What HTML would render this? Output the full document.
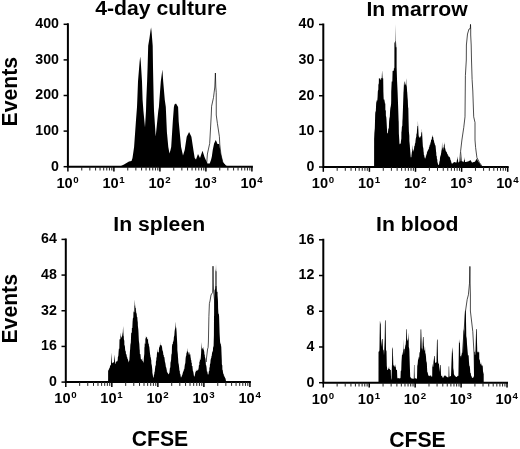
<!DOCTYPE html>
<html><head><meta charset="utf-8"><title>CFSE histograms</title>
<style>
html,body{margin:0;padding:0;background:#fff;}
body{width:520px;height:449px;overflow:hidden;}
svg{display:block;font-family:'Liberation Sans', sans-serif;fill:#000;}
</style></head><body>
<svg width="520" height="449" viewBox="0 0 520 449">
<rect width="520" height="449" fill="#fff"/>
<g><path d="M121.00,166.70 L121.00,166.00 L124.00,164.50 L129.00,161.50 L131.50,161.00 L132.50,158.00 L134.10,147.00 L135.90,121.40 L137.00,107.00 L137.30,100.00 L138.00,81.40 L139.60,62.00 L140.20,56.40 L140.80,62.00 L142.00,81.40 L142.60,100.00 L143.40,110.70 L145.00,127.30 L146.00,110.70 L146.30,100.00 L147.10,81.40 L147.60,67.00 L148.20,45.70 L149.50,38.00 L150.60,30.00 L151.10,27.50 L151.60,32.00 L152.70,45.70 L153.00,67.00 L153.30,81.40 L153.70,100.00 L154.00,110.70 L155.70,136.40 L158.30,110.70 L158.90,107.00 L159.40,100.00 L160.80,81.40 L162.40,69.60 L163.20,81.40 L164.80,100.00 L165.80,107.00 L166.90,132.00 L168.30,147.00 L169.50,153.50 L170.50,150.00 L171.20,147.00 L172.80,121.40 L173.90,107.00 L174.50,104.50 L176.00,103.50 L178.10,107.00 L178.70,121.40 L181.10,147.00 L183.00,155.50 L184.70,150.10 L186.70,136.70 L189.10,132.00 L191.40,136.70 L193.40,150.10 L194.70,158.00 L196.00,159.50 L198.00,154.00 L200.00,158.00 L202.50,150.80 L204.50,157.00 L207.40,163.50 L209.70,163.50 L211.00,160.00 L211.80,156.80 L212.75,150.00 L214.10,143.40 L215.80,140.00 L217.50,144.00 L219.20,144.00 L220.50,152.00 L222.80,162.00 L226.00,165.50 L228.00,166.70 L228.00,166.70 Z" fill="#000"/>
<path d="M205.00,165.00 L206.70,163.50 L207.40,154.00 L209.70,143.40 L211.25,115.00 L211.60,106.25 L213.50,97.50 L214.80,87.00 L215.40,73.00 L215.80,87.00 L216.25,92.50 L216.25,115.00 L217.40,123.40 L219.40,136.70 L219.80,144.80 L221.00,155.00 L223.00,163.00 L225.00,165.00" fill="none" stroke="#000" stroke-width="0.7" stroke-linejoin="miter"/>
<path d="M67.90,24.30 V166.70 H251.90" fill="none" stroke="#000" stroke-width="2" stroke-linecap="square"/>
<path d="M63.60,166.70 H67.90" stroke="#000" stroke-width="1.5"/>
<text x="59.00" y="170.60" text-anchor="end" font-size="14.2" font-weight="bold">0</text>
<path d="M63.60,131.10 H67.90" stroke="#000" stroke-width="1.5"/>
<text x="59.00" y="135.00" text-anchor="end" font-size="14.2" font-weight="bold">100</text>
<path d="M63.60,95.50 H67.90" stroke="#000" stroke-width="1.5"/>
<text x="59.00" y="99.40" text-anchor="end" font-size="14.2" font-weight="bold">200</text>
<path d="M63.60,59.90 H67.90" stroke="#000" stroke-width="1.5"/>
<text x="59.00" y="63.80" text-anchor="end" font-size="14.2" font-weight="bold">300</text>
<path d="M63.60,24.30 H67.90" stroke="#000" stroke-width="1.5"/>
<text x="59.00" y="28.20" text-anchor="end" font-size="14.2" font-weight="bold">400</text>
<path d="M67.90,166.70 V171.50" stroke="#000" stroke-width="1.5"/>
<text x="67.60" y="187.50" text-anchor="middle" font-size="14.6" font-weight="bold">10<tspan font-size="9.7" dy="-4.6" dx="0.7">0</tspan></text>
<path d="M81.75,166.70 V170.50" stroke="#222" stroke-width="1"/>
<path d="M89.85,166.70 V170.50" stroke="#222" stroke-width="1"/>
<path d="M95.59,166.70 V170.50" stroke="#222" stroke-width="1"/>
<path d="M100.05,166.70 V170.50" stroke="#222" stroke-width="1"/>
<path d="M103.69,166.70 V170.50" stroke="#222" stroke-width="1"/>
<path d="M106.77,166.70 V170.50" stroke="#222" stroke-width="1"/>
<path d="M109.44,166.70 V170.50" stroke="#222" stroke-width="1"/>
<path d="M111.80,166.70 V170.50" stroke="#222" stroke-width="1"/>
<path d="M113.90,166.70 V171.50" stroke="#000" stroke-width="1.5"/>
<text x="113.60" y="187.50" text-anchor="middle" font-size="14.6" font-weight="bold">10<tspan font-size="9.7" dy="-4.6" dx="0.7">1</tspan></text>
<path d="M127.75,166.70 V170.50" stroke="#222" stroke-width="1"/>
<path d="M135.85,166.70 V170.50" stroke="#222" stroke-width="1"/>
<path d="M141.59,166.70 V170.50" stroke="#222" stroke-width="1"/>
<path d="M146.05,166.70 V170.50" stroke="#222" stroke-width="1"/>
<path d="M149.69,166.70 V170.50" stroke="#222" stroke-width="1"/>
<path d="M152.77,166.70 V170.50" stroke="#222" stroke-width="1"/>
<path d="M155.44,166.70 V170.50" stroke="#222" stroke-width="1"/>
<path d="M157.80,166.70 V170.50" stroke="#222" stroke-width="1"/>
<path d="M159.90,166.70 V171.50" stroke="#000" stroke-width="1.5"/>
<text x="159.60" y="187.50" text-anchor="middle" font-size="14.6" font-weight="bold">10<tspan font-size="9.7" dy="-4.6" dx="0.7">2</tspan></text>
<path d="M173.75,166.70 V170.50" stroke="#222" stroke-width="1"/>
<path d="M181.85,166.70 V170.50" stroke="#222" stroke-width="1"/>
<path d="M187.59,166.70 V170.50" stroke="#222" stroke-width="1"/>
<path d="M192.05,166.70 V170.50" stroke="#222" stroke-width="1"/>
<path d="M195.69,166.70 V170.50" stroke="#222" stroke-width="1"/>
<path d="M198.77,166.70 V170.50" stroke="#222" stroke-width="1"/>
<path d="M201.44,166.70 V170.50" stroke="#222" stroke-width="1"/>
<path d="M203.80,166.70 V170.50" stroke="#222" stroke-width="1"/>
<path d="M205.90,166.70 V171.50" stroke="#000" stroke-width="1.5"/>
<text x="205.60" y="187.50" text-anchor="middle" font-size="14.6" font-weight="bold">10<tspan font-size="9.7" dy="-4.6" dx="0.7">3</tspan></text>
<path d="M219.75,166.70 V170.50" stroke="#222" stroke-width="1"/>
<path d="M227.85,166.70 V170.50" stroke="#222" stroke-width="1"/>
<path d="M233.59,166.70 V170.50" stroke="#222" stroke-width="1"/>
<path d="M238.05,166.70 V170.50" stroke="#222" stroke-width="1"/>
<path d="M241.69,166.70 V170.50" stroke="#222" stroke-width="1"/>
<path d="M244.77,166.70 V170.50" stroke="#222" stroke-width="1"/>
<path d="M247.44,166.70 V170.50" stroke="#222" stroke-width="1"/>
<path d="M249.80,166.70 V170.50" stroke="#222" stroke-width="1"/>
<path d="M251.90,166.70 V171.50" stroke="#000" stroke-width="1.5"/>
<text x="251.60" y="187.50" text-anchor="middle" font-size="14.6" font-weight="bold">10<tspan font-size="9.7" dy="-4.6" dx="0.7">4</tspan></text>
<text transform="translate(161.10,15.00) scale(1.07,1)" text-anchor="middle" font-size="19.8" font-weight="bold">4-day culture</text></g>
<g><path d="M374.10,167.00 L374.10,166.80 L374.12,139.00 L374.38,133.07 L374.83,127.91 L375.10,117.77 L375.20,113.90 L375.38,111.96 L375.83,110.94 L376.10,104.84 L376.20,102.80 L376.60,101.13 L376.80,100.00 L376.88,100.39 L377.33,100.39 L377.60,96.67 L377.80,92.00 L377.88,91.06 L378.33,89.56 L378.38,84.79 L378.83,83.35 L378.90,78.20 L379.10,78.50 L379.38,78.16 L379.83,78.15 L379.88,78.89 L380.33,78.89 L380.38,80.02 L380.83,80.02 L380.88,78.06 L381.33,78.06 L381.50,78.00 L381.60,80.34 L382.10,70.20 L382.60,78.20 L383.10,78.51 L383.20,78.20 L383.40,92.00 L383.60,97.31 L383.70,99.60 L383.88,99.61 L384.33,99.61 L384.60,103.89 L384.80,99.60 L385.10,103.92 L385.30,103.00 L385.38,110.18 L385.83,110.44 L385.88,115.61 L386.33,117.52 L386.50,120.00 L386.60,121.89 L387.10,131.56 L387.20,133.20 L387.38,133.15 L387.83,133.15 L388.00,132.00 L388.10,131.07 L388.38,128.58 L388.83,128.58 L389.10,121.40 L389.38,118.46 L389.83,116.49 L390.10,110.70 L390.38,108.03 L390.83,105.93 L391.10,103.80 L391.20,100.00 L391.22,92.00 L391.60,83.69 L391.70,81.40 L391.88,81.62 L392.33,81.62 L392.60,70.70 L392.88,70.95 L393.33,70.95 L393.38,70.56 L393.83,70.56 L393.88,68.36 L394.33,68.36 L394.40,67.00 L394.42,41.40 L394.60,43.21 L395.10,41.37 L395.30,41.00 L395.50,24.10 L395.60,32.56 L395.70,41.00 L395.88,47.22 L396.33,47.22 L396.60,41.40 L396.62,67.00 L397.10,81.40 L397.60,92.00 L397.90,100.00 L398.10,105.57 L398.60,120.61 L398.70,121.40 L398.88,133.72 L399.33,140.51 L399.40,142.80 L399.60,144.39 L400.10,143.30 L400.60,144.17 L400.80,142.80 L400.88,141.45 L401.33,138.48 L401.40,132.00 L401.60,131.26 L401.88,126.96 L402.33,125.50 L402.40,121.40 L402.60,118.32 L403.00,107.00 L403.10,104.06 L403.50,92.00 L403.60,91.22 L404.00,82.50 L404.10,86.01 L404.38,81.77 L404.83,81.55 L404.88,85.08 L405.33,85.08 L405.38,83.79 L405.83,83.79 L406.10,79.35 L406.20,78.20 L406.38,84.43 L406.83,86.83 L407.10,91.62 L407.20,92.00 L407.60,98.00 L407.80,100.00 L408.10,108.18 L408.30,107.00 L408.60,121.40 L408.88,131.59 L409.33,135.68 L409.38,141.09 L409.83,145.52 L409.90,147.00 L410.10,149.37 L410.60,155.63 L410.80,157.60 L410.88,157.32 L411.33,157.15 L411.50,155.00 L411.60,154.40 L411.88,152.00 L412.33,150.46 L412.60,146.60 L412.75,145.00 L412.88,148.94 L413.33,150.37 L413.50,152.00 L413.60,151.34 L414.10,148.17 L414.20,147.00 L414.38,146.12 L414.83,145.44 L414.88,143.63 L415.33,143.11 L415.60,140.00 L415.88,138.04 L416.33,136.49 L416.38,134.46 L416.83,132.92 L417.00,130.00 L417.10,129.25 L417.38,126.11 L417.83,126.11 L417.90,120.60 L418.10,125.04 L418.60,135.00 L418.88,136.78 L419.33,136.78 L419.38,137.32 L419.83,137.63 L420.00,138.00 L420.10,137.69 L420.38,136.75 L420.83,136.01 L421.10,135.72 L421.20,134.00 L421.38,132.52 L421.83,132.03 L421.90,128.10 L422.10,132.38 L422.50,140.00 L422.60,141.78 L422.88,146.61 L423.33,148.25 L423.60,151.83 L423.75,152.50 L423.88,155.00 L424.33,155.38 L424.38,156.86 L424.83,157.88 L425.00,158.75 L425.10,158.96 L425.38,157.52 L425.83,157.38 L425.88,155.87 L426.33,155.40 L426.38,154.23 L426.83,154.16 L426.90,152.50 L427.10,152.23 L427.38,151.31 L427.83,150.90 L427.88,150.06 L428.33,149.57 L428.38,149.17 L428.83,149.17 L428.88,147.56 L429.33,147.03 L429.40,146.25 L429.60,145.48 L429.88,144.49 L430.33,144.49 L430.38,142.54 L430.83,142.54 L431.00,140.00 L431.10,140.12 L431.38,139.57 L431.83,139.57 L431.88,137.50 L432.33,136.86 L432.60,135.56 L432.75,135.00 L432.88,136.84 L433.33,137.76 L433.38,139.39 L433.83,140.16 L434.00,141.00 L434.10,141.38 L434.38,142.98 L434.83,143.71 L434.88,144.77 L435.33,145.35 L435.60,146.25 L436.10,151.88 L436.25,152.50 L436.38,155.62 L436.83,156.39 L436.88,158.56 L437.33,159.76 L437.38,161.70 L437.83,163.14 L438.10,165.00 L438.38,164.82 L438.83,164.68 L439.00,164.40 L439.10,163.90 L439.38,161.81 L439.83,160.38 L440.00,157.50 L440.10,157.44 L440.38,156.00 L440.83,155.10 L441.10,153.14 L441.25,152.50 L441.38,150.94 L441.83,148.98 L442.10,141.90 L442.38,147.23 L442.83,148.43 L443.00,150.00 L443.10,150.30 L443.38,147.83 L443.83,147.00 L443.88,144.94 L444.33,143.91 L444.40,141.90 L444.60,143.88 L444.88,147.98 L445.33,148.71 L445.50,150.00 L445.60,150.28 L445.88,151.36 L446.33,151.47 L446.38,152.04 L446.83,152.37 L446.90,152.50 L447.10,153.47 L447.38,154.03 L447.83,154.52 L447.88,155.48 L448.33,155.62 L448.50,156.00 L448.60,156.73 L448.88,156.60 L449.33,156.83 L449.38,157.32 L449.83,157.33 L450.00,157.50 L450.10,158.07 L450.38,159.82 L450.83,160.21 L450.88,161.25 L451.33,161.86 L451.38,162.78 L451.83,163.50 L451.90,163.75 L452.10,163.62 L452.38,163.39 L452.83,163.39 L452.88,162.97 L453.33,162.97 L453.38,162.52 L453.83,162.34 L454.00,162.00 L454.10,162.02 L454.38,162.12 L454.83,162.17 L454.88,162.22 L455.33,162.27 L455.38,162.38 L455.83,162.38 L455.88,162.43 L456.33,162.47 L456.50,162.50 L456.60,162.12 L456.88,160.16 L457.33,158.98 L457.50,156.25 L457.60,157.04 L458.10,161.05 L458.30,162.50 L458.38,162.44 L458.83,162.31 L458.88,162.07 L459.33,161.98 L459.38,161.69 L459.83,161.54 L460.10,161.16 L460.30,161.00 L460.38,159.89 L460.83,156.57 L461.00,150.60 L461.10,152.22 L461.60,159.76 L461.70,161.00 L461.88,161.31 L462.33,161.31 L462.38,161.45 L462.83,161.56 L462.88,161.87 L463.33,161.87 L463.60,162.20 L463.70,162.00 L463.88,160.75 L464.33,159.44 L464.40,157.00 L464.60,158.77 L465.10,162.00 L465.38,161.95 L465.83,161.91 L465.88,161.90 L466.33,161.90 L466.38,161.78 L466.83,161.74 L466.88,161.85 L467.33,161.85 L467.38,161.61 L467.83,161.58 L468.00,161.50 L468.10,161.62 L468.38,161.28 L468.83,161.18 L468.88,161.06 L469.33,161.06 L469.38,160.71 L469.83,160.62 L469.88,160.42 L470.33,160.29 L470.60,160.00 L470.88,160.95 L471.33,161.29 L471.38,161.82 L471.83,162.19 L472.00,162.50 L472.10,162.70 L472.38,162.38 L472.83,162.33 L472.88,162.21 L473.33,162.21 L473.38,162.06 L473.83,162.06 L473.88,162.10 L474.33,162.10 L474.38,161.71 L474.83,161.64 L475.00,161.50 L475.10,161.45 L475.38,160.81 L475.83,160.50 L475.88,159.89 L476.33,159.73 L476.38,159.06 L476.83,159.06 L476.90,158.00 L477.10,158.60 L477.38,160.13 L477.83,160.52 L478.00,161.00 L478.10,161.23 L478.38,161.86 L478.83,162.03 L478.88,162.38 L479.33,162.66 L479.38,163.17 L479.83,163.28 L480.00,163.50 L480.10,163.88 L480.38,164.56 L480.83,164.93 L480.88,165.42 L481.33,165.80 L481.38,166.32 L481.83,166.67 L481.90,166.80 L481.90,167.00 Z" fill="#000"/>
<path d="M458.50,166.50 L459.40,164.00 L460.60,151.25 L461.90,140.00 L463.75,127.50 L465.00,116.80 L465.40,75.50 L466.30,60.00 L466.40,45.00 L467.50,34.00 L469.00,29.00 L470.30,28.50 L470.50,24.40 L470.70,29.00 L470.70,35.00 L471.20,45.00 L471.50,60.00 L472.10,79.40 L472.80,91.00 L473.70,116.80 L475.00,122.50 L475.00,140.00 L475.60,147.50 L476.90,157.50 L479.40,162.50 L481.90,166.00" fill="none" stroke="#000" stroke-width="0.7" stroke-linejoin="miter"/>
<path d="M323.30,24.50 V167.00 H507.70" fill="none" stroke="#000" stroke-width="2" stroke-linecap="square"/>
<path d="M319.00,167.00 H323.30" stroke="#000" stroke-width="1.5"/>
<text x="314.40" y="170.90" text-anchor="end" font-size="14.2" font-weight="bold">0</text>
<path d="M319.00,131.38 H323.30" stroke="#000" stroke-width="1.5"/>
<text x="314.40" y="135.28" text-anchor="end" font-size="14.2" font-weight="bold">10</text>
<path d="M319.00,95.75 H323.30" stroke="#000" stroke-width="1.5"/>
<text x="314.40" y="99.65" text-anchor="end" font-size="14.2" font-weight="bold">20</text>
<path d="M319.00,60.12 H323.30" stroke="#000" stroke-width="1.5"/>
<text x="314.40" y="64.03" text-anchor="end" font-size="14.2" font-weight="bold">30</text>
<path d="M319.00,24.50 H323.30" stroke="#000" stroke-width="1.5"/>
<text x="314.40" y="28.40" text-anchor="end" font-size="14.2" font-weight="bold">40</text>
<path d="M323.30,167.00 V171.80" stroke="#000" stroke-width="1.5"/>
<text x="323.00" y="187.80" text-anchor="middle" font-size="14.6" font-weight="bold">10<tspan font-size="9.7" dy="-4.6" dx="0.7">0</tspan></text>
<path d="M337.18,167.00 V170.80" stroke="#222" stroke-width="1"/>
<path d="M345.30,167.00 V170.80" stroke="#222" stroke-width="1"/>
<path d="M351.05,167.00 V170.80" stroke="#222" stroke-width="1"/>
<path d="M355.52,167.00 V170.80" stroke="#222" stroke-width="1"/>
<path d="M359.17,167.00 V170.80" stroke="#222" stroke-width="1"/>
<path d="M362.26,167.00 V170.80" stroke="#222" stroke-width="1"/>
<path d="M364.93,167.00 V170.80" stroke="#222" stroke-width="1"/>
<path d="M367.29,167.00 V170.80" stroke="#222" stroke-width="1"/>
<path d="M369.40,167.00 V171.80" stroke="#000" stroke-width="1.5"/>
<text x="369.10" y="187.80" text-anchor="middle" font-size="14.6" font-weight="bold">10<tspan font-size="9.7" dy="-4.6" dx="0.7">1</tspan></text>
<path d="M383.28,167.00 V170.80" stroke="#222" stroke-width="1"/>
<path d="M391.40,167.00 V170.80" stroke="#222" stroke-width="1"/>
<path d="M397.15,167.00 V170.80" stroke="#222" stroke-width="1"/>
<path d="M401.62,167.00 V170.80" stroke="#222" stroke-width="1"/>
<path d="M405.27,167.00 V170.80" stroke="#222" stroke-width="1"/>
<path d="M408.36,167.00 V170.80" stroke="#222" stroke-width="1"/>
<path d="M411.03,167.00 V170.80" stroke="#222" stroke-width="1"/>
<path d="M413.39,167.00 V170.80" stroke="#222" stroke-width="1"/>
<path d="M415.50,167.00 V171.80" stroke="#000" stroke-width="1.5"/>
<text x="415.20" y="187.80" text-anchor="middle" font-size="14.6" font-weight="bold">10<tspan font-size="9.7" dy="-4.6" dx="0.7">2</tspan></text>
<path d="M429.38,167.00 V170.80" stroke="#222" stroke-width="1"/>
<path d="M437.50,167.00 V170.80" stroke="#222" stroke-width="1"/>
<path d="M443.25,167.00 V170.80" stroke="#222" stroke-width="1"/>
<path d="M447.72,167.00 V170.80" stroke="#222" stroke-width="1"/>
<path d="M451.37,167.00 V170.80" stroke="#222" stroke-width="1"/>
<path d="M454.46,167.00 V170.80" stroke="#222" stroke-width="1"/>
<path d="M457.13,167.00 V170.80" stroke="#222" stroke-width="1"/>
<path d="M459.49,167.00 V170.80" stroke="#222" stroke-width="1"/>
<path d="M461.60,167.00 V171.80" stroke="#000" stroke-width="1.5"/>
<text x="461.30" y="187.80" text-anchor="middle" font-size="14.6" font-weight="bold">10<tspan font-size="9.7" dy="-4.6" dx="0.7">3</tspan></text>
<path d="M475.48,167.00 V170.80" stroke="#222" stroke-width="1"/>
<path d="M483.60,167.00 V170.80" stroke="#222" stroke-width="1"/>
<path d="M489.35,167.00 V170.80" stroke="#222" stroke-width="1"/>
<path d="M493.82,167.00 V170.80" stroke="#222" stroke-width="1"/>
<path d="M497.47,167.00 V170.80" stroke="#222" stroke-width="1"/>
<path d="M500.56,167.00 V170.80" stroke="#222" stroke-width="1"/>
<path d="M503.23,167.00 V170.80" stroke="#222" stroke-width="1"/>
<path d="M505.59,167.00 V170.80" stroke="#222" stroke-width="1"/>
<path d="M507.70,167.00 V171.80" stroke="#000" stroke-width="1.5"/>
<text x="507.40" y="187.80" text-anchor="middle" font-size="14.6" font-weight="bold">10<tspan font-size="9.7" dy="-4.6" dx="0.7">4</tspan></text>
<text transform="translate(417.00,15.90) scale(1.07,1)" text-anchor="middle" font-size="19.8" font-weight="bold">In marrow</text></g>
<g><path d="M108.10,382.10 L108.10,382.10 L108.12,371.00 L108.38,370.32 L108.82,369.85 L108.88,368.99 L109.32,368.42 L109.38,367.68 L109.82,367.68 L110.00,366.00 L110.10,365.81 L110.38,365.28 L110.82,365.28 L111.00,364.00 L111.10,361.96 L111.50,352.50 L111.60,354.61 L112.00,363.00 L112.10,363.42 L112.38,362.81 L112.82,362.70 L112.88,362.80 L113.32,362.80 L113.38,362.31 L113.82,362.21 L114.00,362.00 L114.10,360.75 L114.60,354.40 L115.10,361.92 L115.20,363.00 L115.38,363.77 L115.82,363.77 L115.88,362.12 L116.32,361.86 L116.38,361.47 L116.82,361.27 L116.88,361.34 L117.32,361.34 L117.50,360.00 L117.60,361.17 L117.88,357.00 L118.32,356.06 L118.60,351.67 L118.75,350.00 L118.88,348.70 L119.32,348.70 L119.50,340.00 L119.60,339.33 L119.88,339.18 L120.32,339.18 L120.60,332.50 L120.88,335.93 L121.32,336.93 L121.50,338.00 L121.60,337.71 L122.10,335.81 L122.30,335.00 L122.38,334.16 L122.82,332.09 L123.10,326.00 L123.60,336.27 L123.80,336.00 L123.88,339.01 L124.32,341.03 L124.38,344.91 L124.82,345.82 L125.00,347.50 L125.10,349.34 L125.38,350.92 L125.82,351.62 L125.88,353.84 L126.32,354.12 L126.50,355.00 L126.60,355.32 L126.88,356.88 L127.32,357.58 L127.38,358.53 L127.82,359.14 L128.10,360.00 L128.60,362.38 L128.75,361.90 L128.88,361.25 L129.32,360.47 L129.50,358.00 L129.60,356.64 L130.00,350.00 L130.10,349.70 L130.38,344.75 L130.82,342.40 L131.10,335.01 L131.25,332.50 L131.38,332.76 L131.82,332.76 L131.88,328.08 L132.32,328.08 L132.60,321.60 L132.75,320.00 L132.88,318.33 L133.32,317.45 L133.50,310.00 L133.60,311.37 L133.88,312.21 L134.32,312.21 L134.40,305.00 L134.60,305.90 L134.75,299.40 L135.10,305.00 L135.38,307.77 L135.82,308.15 L136.10,316.06 L136.25,310.00 L136.38,312.43 L136.82,313.83 L136.88,316.78 L137.32,317.17 L137.60,322.47 L137.75,320.00 L137.88,325.96 L138.32,329.58 L138.50,332.50 L138.60,335.01 L138.88,340.91 L139.32,344.05 L139.60,349.37 L139.75,350.00 L139.88,354.00 L140.32,354.00 L140.50,355.00 L140.60,356.20 L140.88,358.98 L141.32,358.98 L141.38,359.15 L141.82,359.73 L141.90,360.00 L142.10,361.34 L142.50,361.00 L142.60,360.36 L142.75,357.50 L143.10,363.00 L143.60,361.38 L143.75,360.00 L143.88,357.60 L144.32,353.85 L144.40,347.50 L144.60,346.91 L144.75,342.00 L144.88,343.64 L145.32,343.64 L145.38,338.50 L145.82,338.21 L146.00,335.00 L146.10,337.28 L146.38,336.82 L146.82,337.47 L147.00,338.00 L147.10,339.94 L147.38,338.91 L147.82,338.91 L148.00,336.50 L148.10,341.53 L148.38,343.87 L148.82,343.87 L148.88,345.43 L149.32,346.91 L149.40,347.50 L149.60,349.64 L150.10,354.57 L150.30,355.00 L150.38,356.58 L150.82,357.76 L151.10,359.68 L151.25,360.00 L151.38,363.38 L151.82,365.48 L152.10,368.11 L152.30,370.00 L152.38,372.82 L152.82,374.92 L153.10,377.50 L153.50,377.50 L153.60,377.21 L153.88,375.31 L154.32,374.01 L154.38,372.40 L154.82,371.15 L155.00,368.75 L155.10,368.17 L155.38,365.79 L155.82,365.33 L155.88,361.84 L156.32,360.08 L156.38,357.89 L156.82,356.62 L156.90,353.75 L157.10,352.95 L157.50,348.75 L157.60,351.85 L158.00,352.00 L158.10,353.57 L158.38,351.93 L158.82,351.93 L159.00,348.00 L159.10,347.90 L159.38,346.67 L159.82,346.47 L159.88,344.89 L160.32,344.56 L160.38,345.30 L160.82,345.30 L160.90,341.25 L161.10,345.80 L161.38,344.99 L161.82,346.09 L162.00,347.00 L162.10,347.60 L162.38,350.17 L162.82,351.12 L163.00,352.00 L163.10,352.54 L163.38,354.94 L163.82,355.18 L163.88,357.10 L164.32,357.11 L164.40,357.40 L164.60,358.76 L164.88,361.60 L165.32,362.95 L165.50,364.00 L165.60,364.76 L165.88,366.97 L166.32,367.81 L166.60,369.48 L166.80,370.00 L166.88,371.84 L167.32,371.84 L167.38,372.74 L167.82,372.94 L168.10,373.94 L168.30,374.30 L168.38,374.16 L168.82,374.03 L168.88,373.20 L169.32,373.18 L169.50,372.00 L169.60,371.00 L169.88,368.25 L170.32,367.25 L170.50,362.00 L170.60,362.56 L171.10,359.82 L171.20,357.40 L171.38,354.80 L171.82,353.32 L172.00,345.50 L172.10,345.68 L172.38,344.12 L172.82,343.89 L172.88,342.29 L173.32,341.51 L173.50,340.00 L173.60,340.89 L173.88,337.12 L174.32,335.40 L174.60,331.56 L174.80,330.00 L174.88,329.39 L175.32,327.77 L175.60,323.59 L175.80,321.80 L175.88,326.25 L176.32,328.49 L176.60,332.00 L177.10,341.30 L177.30,345.00 L177.38,350.31 L177.82,354.30 L178.00,357.40 L178.10,358.34 L178.38,362.72 L178.82,364.69 L179.10,367.31 L179.20,368.00 L179.38,370.15 L179.82,371.37 L179.88,373.53 L180.32,374.06 L180.50,375.00 L180.60,375.78 L181.00,377.70 L181.10,377.46 L181.38,376.77 L181.82,376.26 L181.88,375.54 L182.32,375.07 L182.50,374.00 L182.60,373.74 L182.88,372.60 L183.32,371.78 L183.38,370.74 L183.82,370.74 L183.88,369.37 L184.32,369.37 L184.60,366.50 L184.70,365.80 L184.88,364.40 L185.32,363.04 L185.60,358.62 L185.80,357.00 L185.88,356.55 L186.32,355.23 L186.38,353.55 L186.82,352.54 L187.10,349.42 L187.30,348.00 L187.38,351.42 L187.82,351.42 L187.88,351.41 L188.32,352.27 L188.50,353.00 L188.60,352.88 L188.88,354.85 L189.32,354.85 L189.60,352.46 L189.80,351.40 L189.88,353.44 L190.32,354.86 L190.60,357.40 L190.80,358.00 L190.88,359.46 L191.32,360.56 L191.38,362.44 L191.82,363.00 L191.88,365.97 L192.32,365.97 L192.40,365.80 L192.60,368.18 L192.88,370.93 L193.32,371.85 L193.50,373.00 L193.60,373.49 L193.88,375.68 L194.32,376.57 L194.40,376.90 L194.60,375.94 L195.10,373.98 L195.20,373.00 L195.38,372.26 L195.82,371.60 L196.10,369.20 L196.38,370.89 L196.82,370.89 L197.00,371.00 L197.10,370.92 L197.38,370.25 L197.82,369.86 L197.88,369.64 L198.32,369.64 L198.50,368.00 L198.60,368.67 L198.88,365.35 L199.32,365.04 L199.38,361.82 L199.82,361.59 L200.00,357.40 L200.10,359.39 L200.60,360.00 L201.10,353.27 L201.20,350.00 L201.50,341.90 L201.60,343.86 L201.90,349.00 L202.10,349.49 L202.38,348.13 L202.82,348.13 L203.10,346.80 L203.38,348.97 L203.82,349.94 L204.10,351.14 L204.30,352.00 L204.38,354.06 L204.82,355.23 L204.88,357.09 L205.32,358.31 L205.60,360.00 L205.88,364.83 L206.32,365.80 L206.60,368.00 L206.88,371.47 L207.32,371.54 L207.50,372.40 L207.60,373.21 L207.80,374.30 L207.88,374.38 L208.32,374.38 L208.60,373.50 L208.70,372.40 L208.88,371.26 L209.32,370.87 L209.38,367.99 L209.82,366.73 L209.88,364.73 L210.32,363.35 L210.60,360.00 L210.88,358.73 L211.32,357.81 L211.38,356.42 L211.82,355.48 L211.90,354.00 L212.10,353.03 L212.38,351.43 L212.82,351.40 L213.10,347.50 L213.60,345.97 L213.70,342.00 L213.90,335.00 L214.00,316.40 L214.10,315.76 L214.30,300.00 L214.60,290.00 L215.10,289.24 L215.30,286.00 L215.45,285.90 L215.47,264.10 L215.60,268.93 L215.88,271.34 L216.32,271.34 L216.50,264.10 L216.52,285.90 L216.60,286.01 L216.70,286.00 L216.88,291.94 L217.32,291.94 L217.50,290.00 L217.60,299.62 L217.70,295.00 L218.00,302.00 L218.10,307.94 L218.38,313.76 L218.82,313.76 L219.10,316.40 L219.60,333.00 L219.70,335.00 L220.10,342.00 L220.38,343.48 L220.82,343.98 L221.10,346.96 L221.20,345.00 L221.60,355.29 L221.80,360.00 L221.88,364.27 L222.32,365.42 L222.38,369.52 L222.82,370.59 L223.00,372.40 L223.10,372.79 L223.38,374.02 L223.82,374.45 L223.88,375.73 L224.32,375.73 L224.38,376.66 L224.82,376.93 L224.88,377.62 L225.32,378.17 L225.50,378.60 L225.60,379.10 L226.10,381.60 L226.20,382.10 L226.20,382.10 Z" fill="#000"/>
<path d="M206.30,362.00 L206.50,358.00 L207.60,349.00 L208.10,347.50 L208.40,342.00 L208.90,316.40 L209.40,303.50 L210.00,301.00 L211.00,295.00 L212.60,292.40 L212.90,283.00 L213.00,266.20 L213.20,283.00 L213.50,290.00 L214.50,300.00 L215.30,316.00" fill="none" stroke="#000" stroke-width="0.7" stroke-linejoin="miter"/>
<path d="M65.80,239.40 V382.10 H249.92" fill="none" stroke="#000" stroke-width="2" stroke-linecap="square"/>
<path d="M61.50,382.10 H65.80" stroke="#000" stroke-width="1.5"/>
<text x="56.90" y="386.00" text-anchor="end" font-size="14.2" font-weight="bold">0</text>
<path d="M61.50,346.43 H65.80" stroke="#000" stroke-width="1.5"/>
<text x="56.90" y="350.32" text-anchor="end" font-size="14.2" font-weight="bold">16</text>
<path d="M61.50,310.75 H65.80" stroke="#000" stroke-width="1.5"/>
<text x="56.90" y="314.65" text-anchor="end" font-size="14.2" font-weight="bold">32</text>
<path d="M61.50,275.08 H65.80" stroke="#000" stroke-width="1.5"/>
<text x="56.90" y="278.98" text-anchor="end" font-size="14.2" font-weight="bold">48</text>
<path d="M61.50,239.40 H65.80" stroke="#000" stroke-width="1.5"/>
<text x="56.90" y="243.30" text-anchor="end" font-size="14.2" font-weight="bold">64</text>
<path d="M65.80,382.10 V386.90" stroke="#000" stroke-width="1.5"/>
<text x="65.50" y="402.90" text-anchor="middle" font-size="14.6" font-weight="bold">10<tspan font-size="9.7" dy="-4.6" dx="0.7">0</tspan></text>
<path d="M79.66,382.10 V385.90" stroke="#222" stroke-width="1"/>
<path d="M87.76,382.10 V385.90" stroke="#222" stroke-width="1"/>
<path d="M93.51,382.10 V385.90" stroke="#222" stroke-width="1"/>
<path d="M97.97,382.10 V385.90" stroke="#222" stroke-width="1"/>
<path d="M101.62,382.10 V385.90" stroke="#222" stroke-width="1"/>
<path d="M104.70,382.10 V385.90" stroke="#222" stroke-width="1"/>
<path d="M107.37,382.10 V385.90" stroke="#222" stroke-width="1"/>
<path d="M109.72,382.10 V385.90" stroke="#222" stroke-width="1"/>
<path d="M111.83,382.10 V386.90" stroke="#000" stroke-width="1.5"/>
<text x="111.53" y="402.90" text-anchor="middle" font-size="14.6" font-weight="bold">10<tspan font-size="9.7" dy="-4.6" dx="0.7">1</tspan></text>
<path d="M125.69,382.10 V385.90" stroke="#222" stroke-width="1"/>
<path d="M133.79,382.10 V385.90" stroke="#222" stroke-width="1"/>
<path d="M139.54,382.10 V385.90" stroke="#222" stroke-width="1"/>
<path d="M144.00,382.10 V385.90" stroke="#222" stroke-width="1"/>
<path d="M147.65,382.10 V385.90" stroke="#222" stroke-width="1"/>
<path d="M150.73,382.10 V385.90" stroke="#222" stroke-width="1"/>
<path d="M153.40,382.10 V385.90" stroke="#222" stroke-width="1"/>
<path d="M155.75,382.10 V385.90" stroke="#222" stroke-width="1"/>
<path d="M157.86,382.10 V386.90" stroke="#000" stroke-width="1.5"/>
<text x="157.56" y="402.90" text-anchor="middle" font-size="14.6" font-weight="bold">10<tspan font-size="9.7" dy="-4.6" dx="0.7">2</tspan></text>
<path d="M171.72,382.10 V385.90" stroke="#222" stroke-width="1"/>
<path d="M179.82,382.10 V385.90" stroke="#222" stroke-width="1"/>
<path d="M185.57,382.10 V385.90" stroke="#222" stroke-width="1"/>
<path d="M190.03,382.10 V385.90" stroke="#222" stroke-width="1"/>
<path d="M193.68,382.10 V385.90" stroke="#222" stroke-width="1"/>
<path d="M196.76,382.10 V385.90" stroke="#222" stroke-width="1"/>
<path d="M199.43,382.10 V385.90" stroke="#222" stroke-width="1"/>
<path d="M201.78,382.10 V385.90" stroke="#222" stroke-width="1"/>
<path d="M203.89,382.10 V386.90" stroke="#000" stroke-width="1.5"/>
<text x="203.59" y="402.90" text-anchor="middle" font-size="14.6" font-weight="bold">10<tspan font-size="9.7" dy="-4.6" dx="0.7">3</tspan></text>
<path d="M217.75,382.10 V385.90" stroke="#222" stroke-width="1"/>
<path d="M225.85,382.10 V385.90" stroke="#222" stroke-width="1"/>
<path d="M231.60,382.10 V385.90" stroke="#222" stroke-width="1"/>
<path d="M236.06,382.10 V385.90" stroke="#222" stroke-width="1"/>
<path d="M239.71,382.10 V385.90" stroke="#222" stroke-width="1"/>
<path d="M242.79,382.10 V385.90" stroke="#222" stroke-width="1"/>
<path d="M245.46,382.10 V385.90" stroke="#222" stroke-width="1"/>
<path d="M247.81,382.10 V385.90" stroke="#222" stroke-width="1"/>
<path d="M249.92,382.10 V386.90" stroke="#000" stroke-width="1.5"/>
<text x="249.62" y="402.90" text-anchor="middle" font-size="14.6" font-weight="bold">10<tspan font-size="9.7" dy="-4.6" dx="0.7">4</tspan></text>
<text transform="translate(159.20,231.00) scale(1.07,1)" text-anchor="middle" font-size="19.8" font-weight="bold">In spleen</text></g>
<g><path d="M378.50,382.70 L378.50,382.70 L378.52,352.00 L378.77,351.42 L379.23,351.25 L379.40,350.00 L379.50,346.67 L379.60,339.00 L379.90,320.00 L380.00,321.65 L380.50,324.39 L380.70,320.00 L381.00,339.00 L381.50,346.91 L381.60,345.00 L382.00,339.00 L382.50,339.04 L382.60,339.00 L383.00,349.00 L383.27,350.04 L383.73,350.51 L384.00,355.34 L384.20,351.50 L384.50,345.09 L384.70,340.00 L385.00,320.00 L385.50,320.66 L385.60,320.00 L385.90,340.00 L386.00,349.68 L386.50,351.50 L386.80,366.00 L387.00,367.28 L387.27,370.06 L387.73,370.06 L388.00,369.60 L388.27,368.61 L388.73,368.45 L389.00,366.00 L389.27,368.97 L389.73,368.97 L390.00,369.60 L390.27,369.91 L390.73,369.96 L390.80,370.00 L391.00,377.13 L391.10,380.00 L391.50,378.00 L391.90,366.00 L392.00,364.35 L392.30,347.00 L392.50,348.88 L392.90,347.00 L393.00,354.57 L393.30,364.00 L393.50,365.92 L393.77,365.18 L394.23,365.54 L394.50,366.00 L394.77,366.95 L395.23,366.95 L395.50,364.00 L396.00,368.99 L396.20,369.60 L396.27,369.98 L396.73,369.98 L397.00,370.00 L397.30,377.70 L397.50,377.70 L397.77,378.42 L398.23,378.42 L398.27,377.91 L398.73,377.91 L398.77,378.20 L399.23,378.20 L399.27,378.44 L399.73,378.44 L399.77,378.19 L400.23,378.19 L400.50,377.70 L400.70,372.00 L400.77,371.06 L401.23,370.60 L401.50,362.00 L402.00,354.13 L402.10,351.50 L402.27,354.82 L402.73,354.82 L403.00,351.39 L403.10,350.00 L403.40,338.90 L403.50,348.57 L403.80,350.00 L404.00,354.57 L404.27,349.21 L404.73,348.90 L405.00,348.00 L405.27,345.80 L405.73,344.14 L406.00,340.00 L406.40,329.00 L406.50,329.49 L406.90,329.00 L407.00,340.87 L407.30,340.00 L407.50,340.92 L407.90,338.00 L408.00,340.12 L408.30,332.60 L408.50,337.11 L408.70,340.00 L408.77,346.79 L409.23,348.63 L409.40,351.50 L409.50,355.67 L409.80,365.00 L410.00,370.79 L410.20,376.00 L410.27,377.14 L410.73,377.31 L411.00,378.00 L411.27,378.31 L411.73,378.31 L411.77,378.74 L412.23,378.74 L412.27,378.42 L412.73,378.42 L412.77,378.78 L413.23,378.78 L413.27,378.66 L413.73,378.66 L413.80,378.00 L414.00,365.00 L414.40,365.00 L414.50,371.85 L414.70,378.00 L414.77,378.41 L415.23,378.41 L415.27,378.02 L415.73,378.02 L415.77,378.67 L416.23,378.67 L416.27,378.84 L416.73,378.84 L417.00,378.00 L417.30,364.00 L417.50,365.98 L418.00,360.00 L418.50,358.73 L418.70,356.00 L418.77,357.41 L419.23,357.41 L419.50,352.70 L419.60,352.00 L420.00,352.61 L420.20,346.00 L420.50,336.37 L420.60,329.00 L421.00,329.84 L421.20,329.00 L421.50,338.78 L421.60,342.00 L421.77,348.39 L422.23,348.39 L422.50,351.12 L422.60,344.00 L423.00,337.00 L423.50,337.00 L423.90,346.00 L424.00,346.06 L424.27,350.52 L424.73,350.52 L425.00,346.00 L425.27,352.63 L425.73,354.16 L425.80,355.00 L426.00,356.75 L426.27,361.09 L426.73,362.57 L426.90,364.00 L427.00,367.03 L427.27,371.97 L427.73,372.43 L427.80,373.20 L428.00,373.67 L428.27,375.40 L428.73,375.40 L429.00,376.00 L429.27,375.86 L429.73,375.75 L429.77,376.21 L430.23,376.21 L430.27,375.41 L430.73,375.41 L431.00,375.00 L431.27,376.50 L431.73,376.50 L432.00,377.10 L432.20,376.00 L432.30,364.00 L432.50,364.60 L432.77,366.64 L433.23,366.64 L433.50,362.00 L434.00,358.17 L434.20,356.00 L434.50,356.03 L434.70,356.00 L435.00,361.75 L435.20,363.00 L435.27,362.94 L435.73,362.77 L435.77,362.56 L436.23,362.54 L436.50,362.00 L437.00,338.90 L437.50,340.30 L437.60,338.90 L438.00,360.00 L438.27,363.48 L438.73,363.48 L439.00,364.00 L439.50,372.00 L440.00,366.24 L440.10,365.00 L440.50,365.01 L440.60,365.00 L441.00,374.00 L441.27,375.90 L441.73,375.90 L441.77,375.64 L442.23,375.84 L442.27,377.39 L442.73,377.39 L443.00,377.00 L443.27,377.46 L443.73,377.46 L443.77,376.23 L444.23,376.18 L444.27,375.79 L444.73,375.79 L445.00,375.00 L445.27,375.76 L445.73,375.76 L445.77,376.32 L446.23,376.32 L446.27,376.60 L446.73,376.60 L446.77,376.91 L447.23,376.91 L447.50,377.35 L447.60,377.00 L447.77,377.60 L448.23,377.60 L448.50,376.00 L448.70,366.00 L449.00,366.82 L449.10,366.00 L449.40,376.00 L449.50,376.24 L449.77,376.67 L450.23,376.67 L450.27,376.07 L450.73,376.07 L451.00,376.00 L451.50,362.00 L452.00,350.08 L452.10,347.00 L452.50,353.55 L452.70,347.00 L453.00,357.39 L453.20,362.00 L453.27,368.04 L453.73,371.00 L453.90,374.00 L454.00,374.14 L454.27,375.12 L454.73,375.18 L454.77,376.03 L455.23,376.03 L455.27,376.29 L455.73,376.61 L456.00,377.00 L456.27,377.03 L456.73,377.03 L456.77,376.67 L457.23,376.67 L457.27,375.94 L457.73,375.75 L457.77,375.89 L458.23,375.89 L458.40,375.00 L458.50,369.81 L458.80,352.00 L459.00,338.90 L459.27,342.78 L459.73,342.78 L459.80,338.90 L460.00,346.34 L460.20,352.00 L460.27,356.03 L460.73,356.03 L461.00,358.08 L461.20,356.00 L461.27,355.70 L461.73,354.80 L462.00,352.82 L462.20,352.00 L462.27,352.78 L462.73,352.78 L463.00,352.87 L463.20,345.00 L463.50,333.60 L463.60,329.00 L464.00,331.15 L464.10,329.00 L464.50,335.00 L464.90,310.00 L465.00,314.80 L465.27,310.78 L465.73,310.78 L465.80,309.00 L466.00,321.11 L466.20,330.00 L466.27,335.90 L466.73,338.75 L466.80,340.00 L467.00,343.90 L467.50,350.00 L468.00,356.11 L468.10,355.00 L468.50,355.48 L468.60,355.00 L469.00,362.00 L469.27,365.48 L469.73,366.35 L470.00,368.00 L470.27,372.78 L470.73,373.08 L471.00,375.00 L471.27,376.00 L471.73,376.45 L471.77,377.35 L472.23,377.45 L472.50,378.00 L472.77,377.89 L473.23,377.89 L473.27,376.97 L473.73,376.78 L474.00,376.00 L474.10,352.00 L474.27,351.75 L474.73,351.73 L474.77,354.68 L475.23,354.68 L475.50,350.00 L476.00,333.05 L476.10,329.00 L476.50,329.36 L476.70,329.00 L477.00,341.94 L477.20,348.00 L477.27,352.20 L477.73,352.20 L478.00,350.86 L478.20,351.50 L478.27,352.27 L478.73,352.27 L479.00,352.56 L479.20,352.00 L479.27,359.56 L479.73,359.56 L479.80,360.00 L480.00,361.16 L480.27,364.19 L480.73,364.19 L481.00,362.00 L481.27,364.32 L481.73,365.22 L481.90,366.00 L482.00,366.04 L482.20,365.00 L482.50,366.44 L482.70,365.00 L483.00,371.23 L483.20,372.00 L483.50,373.57 L483.70,374.00 L483.72,382.70 L483.72,382.70 Z" fill="#000"/>
<path d="M460.50,381.00 L461.50,365.00 L463.00,345.00 L464.50,325.00 L465.50,311.00 L467.20,299.40 L468.40,294.80 L469.50,283.20 L469.90,266.40 L470.10,283.00 L470.40,295.00 L470.40,311.00 L472.80,331.70 L474.10,355.00 L474.60,381.00" fill="none" stroke="#000" stroke-width="0.7" stroke-linejoin="miter"/>
<path d="M323.30,239.80 V382.70 H507.02" fill="none" stroke="#000" stroke-width="2" stroke-linecap="square"/>
<path d="M319.00,382.70 H323.30" stroke="#000" stroke-width="1.5"/>
<text x="314.40" y="386.60" text-anchor="end" font-size="14.2" font-weight="bold">0</text>
<path d="M319.00,346.98 H323.30" stroke="#000" stroke-width="1.5"/>
<text x="314.40" y="350.88" text-anchor="end" font-size="14.2" font-weight="bold">4</text>
<path d="M319.00,311.25 H323.30" stroke="#000" stroke-width="1.5"/>
<text x="314.40" y="315.15" text-anchor="end" font-size="14.2" font-weight="bold">8</text>
<path d="M319.00,275.52 H323.30" stroke="#000" stroke-width="1.5"/>
<text x="314.40" y="279.42" text-anchor="end" font-size="14.2" font-weight="bold">12</text>
<path d="M319.00,239.80 H323.30" stroke="#000" stroke-width="1.5"/>
<text x="314.40" y="243.70" text-anchor="end" font-size="14.2" font-weight="bold">16</text>
<path d="M323.30,382.70 V387.50" stroke="#000" stroke-width="1.5"/>
<text x="323.00" y="403.50" text-anchor="middle" font-size="14.6" font-weight="bold">10<tspan font-size="9.7" dy="-4.6" dx="0.7">0</tspan></text>
<path d="M337.13,382.70 V386.50" stroke="#222" stroke-width="1"/>
<path d="M345.21,382.70 V386.50" stroke="#222" stroke-width="1"/>
<path d="M350.95,382.70 V386.50" stroke="#222" stroke-width="1"/>
<path d="M355.40,382.70 V386.50" stroke="#222" stroke-width="1"/>
<path d="M359.04,382.70 V386.50" stroke="#222" stroke-width="1"/>
<path d="M362.12,382.70 V386.50" stroke="#222" stroke-width="1"/>
<path d="M364.78,382.70 V386.50" stroke="#222" stroke-width="1"/>
<path d="M367.13,382.70 V386.50" stroke="#222" stroke-width="1"/>
<path d="M369.23,382.70 V387.50" stroke="#000" stroke-width="1.5"/>
<text x="368.93" y="403.50" text-anchor="middle" font-size="14.6" font-weight="bold">10<tspan font-size="9.7" dy="-4.6" dx="0.7">1</tspan></text>
<path d="M383.06,382.70 V386.50" stroke="#222" stroke-width="1"/>
<path d="M391.14,382.70 V386.50" stroke="#222" stroke-width="1"/>
<path d="M396.88,382.70 V386.50" stroke="#222" stroke-width="1"/>
<path d="M401.33,382.70 V386.50" stroke="#222" stroke-width="1"/>
<path d="M404.97,382.70 V386.50" stroke="#222" stroke-width="1"/>
<path d="M408.05,382.70 V386.50" stroke="#222" stroke-width="1"/>
<path d="M410.71,382.70 V386.50" stroke="#222" stroke-width="1"/>
<path d="M413.06,382.70 V386.50" stroke="#222" stroke-width="1"/>
<path d="M415.16,382.70 V387.50" stroke="#000" stroke-width="1.5"/>
<text x="414.86" y="403.50" text-anchor="middle" font-size="14.6" font-weight="bold">10<tspan font-size="9.7" dy="-4.6" dx="0.7">2</tspan></text>
<path d="M428.99,382.70 V386.50" stroke="#222" stroke-width="1"/>
<path d="M437.07,382.70 V386.50" stroke="#222" stroke-width="1"/>
<path d="M442.81,382.70 V386.50" stroke="#222" stroke-width="1"/>
<path d="M447.26,382.70 V386.50" stroke="#222" stroke-width="1"/>
<path d="M450.90,382.70 V386.50" stroke="#222" stroke-width="1"/>
<path d="M453.98,382.70 V386.50" stroke="#222" stroke-width="1"/>
<path d="M456.64,382.70 V386.50" stroke="#222" stroke-width="1"/>
<path d="M458.99,382.70 V386.50" stroke="#222" stroke-width="1"/>
<path d="M461.09,382.70 V387.50" stroke="#000" stroke-width="1.5"/>
<text x="460.79" y="403.50" text-anchor="middle" font-size="14.6" font-weight="bold">10<tspan font-size="9.7" dy="-4.6" dx="0.7">3</tspan></text>
<path d="M474.92,382.70 V386.50" stroke="#222" stroke-width="1"/>
<path d="M483.00,382.70 V386.50" stroke="#222" stroke-width="1"/>
<path d="M488.74,382.70 V386.50" stroke="#222" stroke-width="1"/>
<path d="M493.19,382.70 V386.50" stroke="#222" stroke-width="1"/>
<path d="M496.83,382.70 V386.50" stroke="#222" stroke-width="1"/>
<path d="M499.91,382.70 V386.50" stroke="#222" stroke-width="1"/>
<path d="M502.57,382.70 V386.50" stroke="#222" stroke-width="1"/>
<path d="M504.92,382.70 V386.50" stroke="#222" stroke-width="1"/>
<path d="M507.02,382.70 V387.50" stroke="#000" stroke-width="1.5"/>
<text x="506.72" y="403.50" text-anchor="middle" font-size="14.6" font-weight="bold">10<tspan font-size="9.7" dy="-4.6" dx="0.7">4</tspan></text>
<text transform="translate(417.20,231.30) scale(1.07,1)" text-anchor="middle" font-size="19.8" font-weight="bold">In blood</text></g>
<text transform="translate(17.1,91.7) rotate(-90)" text-anchor="middle" font-size="21.2" font-weight="bold">Events</text>
<text transform="translate(17.1,308.8) rotate(-90)" text-anchor="middle" font-size="21.2" font-weight="bold">Events</text>
<text x="160" y="445.8" text-anchor="middle" font-size="21.2" font-weight="bold">CFSE</text>
<text x="417.5" y="446.6" text-anchor="middle" font-size="21.2" font-weight="bold">CFSE</text>
</svg>
</body></html>
